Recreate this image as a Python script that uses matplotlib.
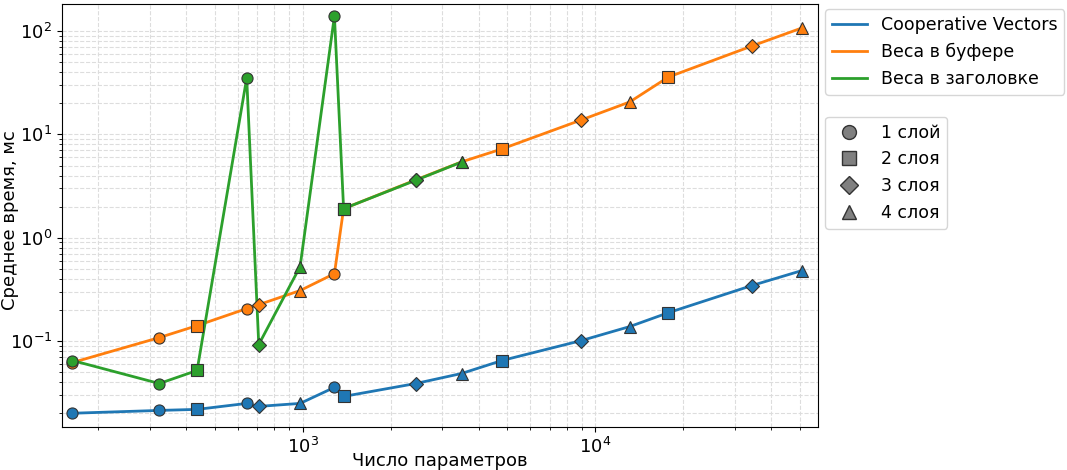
import numpy as np
import matplotlib.pyplot as plt
from matplotlib.lines import Line2D

# number of parameters for each network config (sorted)
params = [163, 323, 435, 643, 707, 979, 1283, 1379, 2435, 3491,
          4803, 8963, 13123, 17795, 34307, 50819]
layers = [1, 1, 2, 1, 3, 4, 1, 2, 3, 4, 2, 3, 4, 2, 3, 4]

coop_vectors = [0.0200, 0.0213, 0.0218, 0.0249, 0.0233, 0.0249, 0.0356, 0.0291,
                0.0388, 0.0485, 0.0648, 0.101, 0.138, 0.188, 0.344, 0.480]
weights_buffer = [0.0619, 0.108, 0.141, 0.206, 0.225, 0.308, 0.449, 1.91,
                  3.63, 5.42, 7.24, 13.8, 20.6, 35.9, 71.6, 107]
weights_header = [0.0648, 0.0388, 0.0519, 35.2, 0.0925, 0.525, 140, 1.91,
                  3.60, 5.40]

series = [
    ('Cooperative Vectors', coop_vectors, 'tab:blue'),
    ('Веса в буфере', weights_buffer, 'tab:orange'),
    ('Веса в заголовке', weights_header, 'tab:green'),
]
markers = {1: 'o', 2: 's', 3: 'D', 4: '^'}
layer_names = {1: '1 слой', 2: '2 слоя', 3: '3 слоя', 4: '4 слоя'}

fig, ax = plt.subplots(figsize=(10.67, 4.70), dpi=100)

for name, vals, color in series:
    xs = np.array(params[:len(vals)])
    ys = np.array(vals)
    ls = np.array(layers[:len(vals)])
    ax.plot(xs, ys, color=color, lw=2, label=name, zorder=2)
    for l, m in markers.items():
        sel = ls == l
        ax.plot(xs[sel], ys[sel], linestyle='none', marker=m, color=color,
                markersize=8 if m != 'D' else 7.5, markeredgecolor='#333333',
                markeredgewidth=0.8, zorder=3)

ax.set_xscale('log')
ax.set_yscale('log')
ax.set_xlim(150, 58000)
ax.set_ylim(0.0148, 182)
ax.grid(True, which='both', linestyle='--', color='#dddddd', linewidth=0.8)
ax.set_axisbelow(True)
ax.tick_params(labelsize=13)
ax.set_xlabel('Число параметров', fontsize=13, labelpad=-3)
ax.set_ylabel('Среднее время, мс', fontsize=13)
ax.yaxis.set_label_coords(-0.057, 0.488)

leg1 = ax.legend(loc='upper left', bbox_to_anchor=(1.002, 1.0), fontsize=12.5,
                 borderaxespad=0.3)
ax.add_artist(leg1)
handles = [Line2D([], [], linestyle='none', marker=markers[l], color='gray',
                  markeredgecolor='#333333', markersize=10 if l != 3 else 9)
           for l in markers]
ax.legend(handles, [layer_names[l] for l in markers], loc='upper left',
          bbox_to_anchor=(1.002, 0.746), fontsize=12.5, borderaxespad=0.3)

fig.subplots_adjust(left=0.058, right=0.767, top=0.991, bottom=0.092)
fig.savefig('out.png', dpi=100)
